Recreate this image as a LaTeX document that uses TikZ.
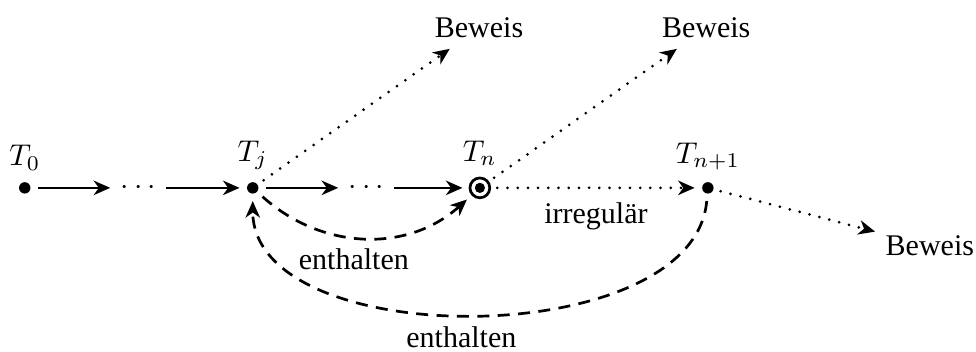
\documentclass[tikz,border=0pt]{standalone}
\usepackage[no-math]{fontspec}
\setmainfont{Liberation Serif}
\usetikzlibrary{arrows.meta}

\begin{document}
\begin{tikzpicture}[>={Stealth[length=5.5pt,width=4.8pt,inset=1.7pt]},label distance=-2pt,
  pt/.style={circle,fill,inner sep=0pt,minimum size=3.8pt,outer sep=2.5pt},
  fin/.style={circle,draw,line width=0.9pt,inner sep=0pt,minimum size=6.6pt,outer sep=2.5pt,
    path picture={\fill (path picture bounding box.center) circle (1.7pt);}},
  ln/.style={line width=0.9pt,->},
  wk/.style={line width=1pt,line cap=round,dash pattern=on 0pt off 3.4pt,->},
  ds/.style={line width=0.9pt,dash pattern=on 4pt off 2.8pt,->}]
\useasboundingbox (-0.29,-1.92) rectangle (11.14,2.2);
% the run of theories
\node[pt,label=above:$T_0$] (t0) at (0,0) {};
\node (d1) at (1.33,0) {$\cdots$};
\node[pt,label=above:$T_j$] (tj) at (2.67,0) {};
\node (d2) at (4,0) {$\cdots$};
\node[fin,label=above:$T_n$] (tn) at (5.33,0) {};
\node[pt,label=above:$T_{n+1}$] (tn1) at (8,0) {};
\node (b1) at (5.32,1.87) {Beweis};
\node (b2) at (7.98,1.87) {Beweis};
\node (b3) at (10.6,-0.68) {Beweis};
\draw[ln] (t0) -- (d1);
\draw[ln] (d1) -- (tj);
\draw[ln] (tj) -- (d2);
\draw[ln] (d2) -- (tn);
\draw[wk] (tn) -- node[below,yshift=-1pt]{irregulär} (tn1);
% proofs
\draw[wk] (tj) -- (b1);
\draw[wk] (tn) -- (b2);
\draw[wk] (tn1) -- (b3);
% containment
\draw[ds] (tj) to[out=-42,in=-138] node[below,pos=0.45]{enthalten} (tn);
\draw[ds] (tn1) to[out=-95,in=-90,looseness=0.86] node[below,pos=0.52]{enthalten} (tj);
\end{tikzpicture}
\end{document}
